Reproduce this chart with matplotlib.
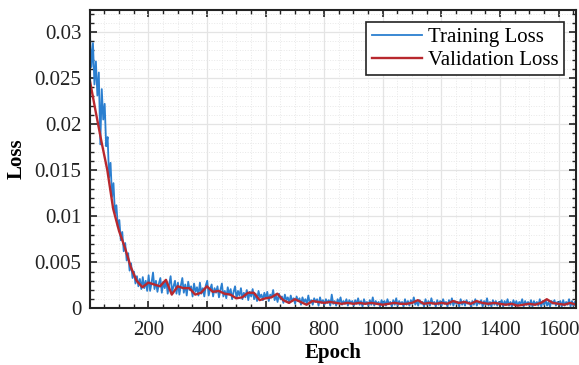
import numpy as np
import matplotlib
matplotlib.use("Agg")
import matplotlib.pyplot as plt
from matplotlib.ticker import MultipleLocator, FuncFormatter

# training loss, one value every 5 epochs (units of 1e-4)
train_epochs = np.arange(1, 1661, 5)
train_loss = np.array([
    295, 262, 288, 243, 268, 231, 256, 178, 238, 205, 222, 176, 186, 142, 158, 121, 136, 103, 112, 88,
    96, 74, 83, 62, 71, 52, 60, 41, 49, 33, 40, 27, 35, 24, 32, 21, 34, 22, 30, 19,
    36, 19, 28, 39, 21, 30, 18, 27, 33, 17, 29, 22, 31, 16, 26, 35, 18, 24, 30, 16,
    28, 15, 25, 33, 17, 26, 14, 29, 20, 24, 13, 27, 18, 23, 14, 28, 16, 22, 13, 25,
    30, 14, 21, 26, 13, 22, 17, 24, 12, 20, 27, 13, 19, 11, 23, 15, 21, 10, 18, 24,
    11, 19, 14, 22, 10, 17, 12, 20, 9, 18, 13, 21, 10, 16, 8, 19, 12, 15, 9, 17,
    11, 18, 8, 15, 12, 20, 9, 14, 7, 16, 10, 13, 6, 15, 9, 12, 6, 14, 8, 11,
    5, 13, 8, 11, 4, 12, 7, 10, 5, 14, 6, 9, 4, 11, 7, 10, 3, 12, 6, 9,
    4, 10, 6, 9, 3, 15, 5, 8, 3, 10, 6, 12, 4, 8, 5, 10, 3, 9, 6, 8,
    3, 9, 5, 11, 4, 8, 2, 10, 5, 7, 3, 9, 4, 12, 3, 8, 5, 7, 2, 9,
    4, 8, 3, 10, 5, 7, 2, 9, 4, 11, 3, 8, 5, 7, 2, 10, 4, 8, 3, 9,
    5, 12, 4, 8, 3, 9, 5, 7, 2, 10, 4, 8, 3, 11, 5, 7, 2, 9, 4, 8,
    3, 10, 5, 7, 2, 9, 4, 11, 3, 8, 5, 7, 2, 10, 4, 8, 3, 9, 5, 7,
    2, 8, 4, 10, 3, 7, 5, 9, 2, 8, 4, 11, 3, 7, 2, 9, 4, 8, 3, 7,
    5, 9, 2, 8, 4, 10, 3, 7, 2, 9, 4, 8, 3, 7, 5, 10, 2, 8, 4, 7,
    3, 9, 2, 8, 4, 7, 3, 10, 2, 8, 4, 9, 3, 7, 2, 8, 5, 9, 3, 7,
    4, 8, 2, 9, 3, 7, 4, 10, 2, 8, 3, 7,
]) * 1e-4

# validation loss, every 20 epochs (units of 1e-4)
val_epochs = np.arange(0, 1661, 20)
val_loss = np.array([
    248, 214, 181, 150, 108, 84, 66, 45, 30, 23,
    28, 26, 24, 31, 15, 24, 22, 22, 15, 17,
    24, 18, 19, 16, 15, 11, 12, 17, 17, 9,
    11, 12, 16, 9, 6, 10, 7, 4, 8, 7,
    6, 7, 6, 5, 6, 5, 6, 5, 6, 5,
    4, 5, 6, 5, 5, 6, 9, 5, 6, 5,
    6, 5, 8, 6, 7, 5, 8, 6, 5, 6,
    5, 4, 5, 3, 4, 5, 4, 6, 10, 6,
    5, 4, 6, 4,
]) * 1e-4

plt.rcParams['font.family'] = ['Liberation Serif', 'DejaVu Serif']
plt.rcParams['font.size'] = 15

fig = plt.figure(figsize=(5.79, 3.65), dpi=100)
ax = fig.add_axes([0.155, 0.155, 0.84, 0.818])

ax.plot(train_epochs, train_loss, color='#2b7fd0', lw=1.3, label='Training Loss')
ax.plot(val_epochs, val_loss, color='#b8282e', lw=1.7, label='Validation Loss')

ax.set_xlim(0, 1660)
ax.set_ylim(0, 0.0324)
ax.xaxis.set_major_locator(MultipleLocator(200))
ax.xaxis.set_minor_locator(MultipleLocator(50))
ax.yaxis.set_major_locator(MultipleLocator(0.005))
ax.yaxis.set_minor_locator(MultipleLocator(0.001))
ax.yaxis.set_major_formatter(FuncFormatter(lambda v, p: '%g' % round(v, 4)))
ax.xaxis.set_major_formatter(FuncFormatter(lambda v, p: '' if v == 0 else '%d' % v))

ax.tick_params(which='both', direction='in', top=True, right=True, colors='#222222')
ax.tick_params(which='major', length=5, width=1.2)
ax.tick_params(which='minor', length=3, width=1.0)
ax.tick_params(axis='x', which='major', pad=9)
ax.tick_params(axis='y', which='major', pad=6)
for s in ax.spines.values():
    s.set_linewidth(1.5)
    s.set_color('#222222')

ax.grid(which='major', color='#e4e4e4', lw=0.9)
ax.grid(which='minor', color='#e8e8e8', lw=0.7, ls=':')
ax.set_axisbelow(True)

ax.set_xlabel('Epoch', fontweight='bold', labelpad=2)
ax.set_ylabel('Loss', fontweight='bold', labelpad=6)

leg = ax.legend(loc='upper right', fancybox=False, framealpha=1, edgecolor='#222222',
                handlelength=2.4, borderpad=0.25, labelspacing=0.15, handletextpad=0.3,
                borderaxespad=0.6)
leg.get_frame().set_linewidth(1.2)

fig.savefig('out.png', dpi=100)
